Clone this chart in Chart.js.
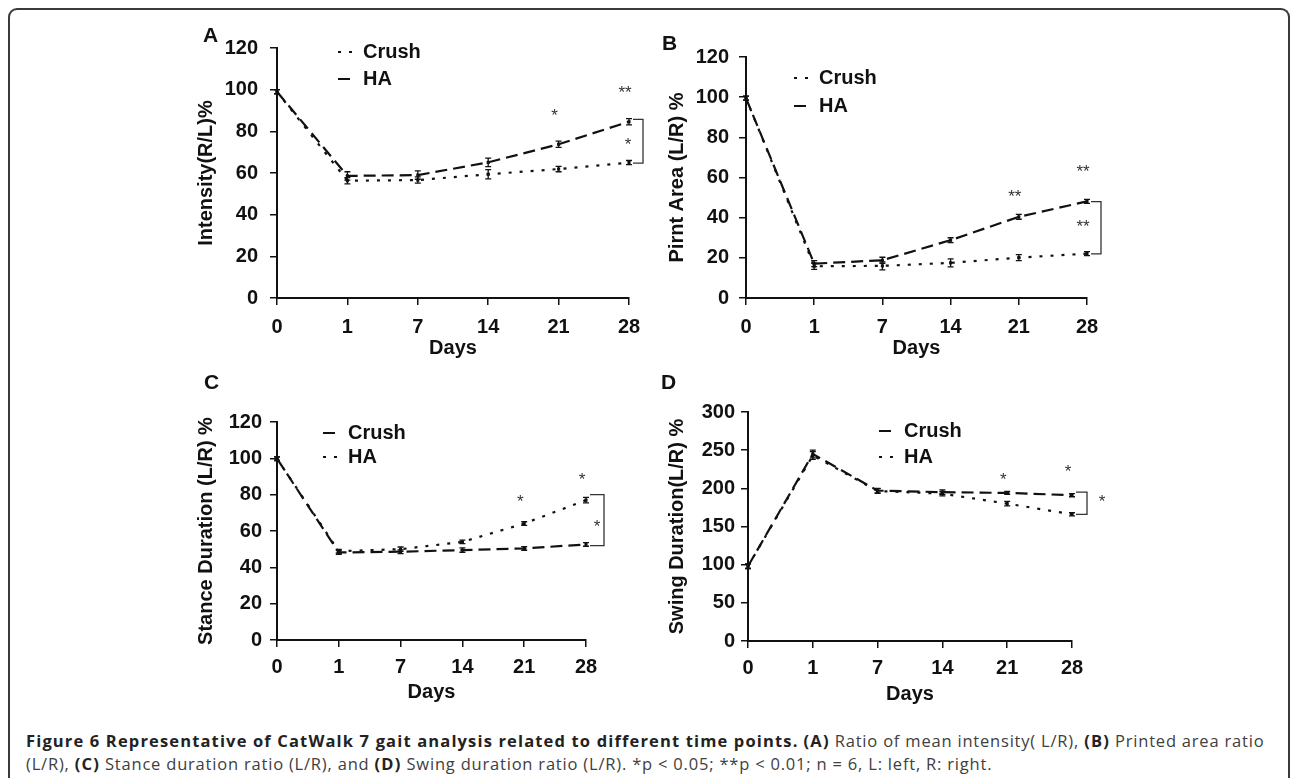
<!DOCTYPE html>
<html>
<head>
<meta charset="utf-8">
<script src="https://cdn.jsdelivr.net/npm/chart.js@4.4.0/dist/chart.umd.min.js"></script>
<style>
  html, body { margin: 0; padding: 0; background: #fff; }
  body { width: 1290px; height: 778px; position: relative; overflow: hidden; }
  .frame {
    position: absolute; left: 8px; top: 8px; width: 1282px; height: 820px; box-sizing: border-box;
    border: 2px solid #3a3a3a; border-bottom: none;
    border-top-left-radius: 9px; border-top-right-radius: 9px;
  }
  .panel { position: absolute; }
  .letter { position: absolute; font: bold 21px "Liberation Sans", Arial, sans-serif; color: #111; line-height: 24px; }
  .caption {
    position: absolute; left: 26px; top: 729px; white-space: nowrap;
    font: 16.5px "Open Sans", sans-serif; line-height: 23px; color: #404040; letter-spacing: 0.8px;
  }
  .caption b { color: #222; letter-spacing: 1.15px; }
</style>
</head>
<body>
<div class="frame"></div>

<canvas id="chartA" class="panel" width="480" height="345" style="left:180px; top:20px;"></canvas>
<canvas id="chartB" class="panel" width="480" height="345" style="left:650px; top:20px;"></canvas>
<canvas id="chartC" class="panel" width="480" height="335" style="left:180px; top:375px;"></canvas>
<canvas id="chartD" class="panel" width="480" height="335" style="left:650px; top:375px;"></canvas>

<div class="letter" style="left:203px; top:23px;">A</div>
<div class="letter" style="left:662px; top:31px;">B</div>
<div class="letter" style="left:204px; top:370px;">C</div>
<div class="letter" style="left:661px; top:370px;">D</div>

<div class="caption">
  <b>Figure 6 Representative of CatWalk 7 gait analysis related to different time points.</b> <b>(A)</b> Ratio of mean intensity( L/R), <b>(B)</b> Printed area ratio<br>
  (L/R), <b>(C)</b> Stance duration ratio (L/R), and <b>(D)</b> Swing duration ratio (L/R). *p &lt; 0.05; **p &lt; 0.01; n = 6, L: left, R: right.
</div>

<script>
const days = ["0", "1", "7", "14", "21", "28"];

// A: mean intensity
const intensityCrush = [99, 56.3, 56.6, 59.4, 61.9, 65];
const intensityCrushErr = [1, 1.5, 1.5, 2.2, 1.3, 1];
const intensityHA = [99, 58.6, 59, 65.1, 73.8, 84.6];
const intensityHAErr = [1, 2, 2, 2, 1.5, 1.5];
const intensityStars = [[4, 89, "*"], [5, 100, "**"]];
const intensityBracket = [85.7, 64.7, 75, "*"];

// B: print area
const areaCrush = [99.5, 15.8, 16, 17.5, 20.1, 22.1];
const areaCrushErr = [1, 1.5, 2, 2, 1.5, 1];
const areaHA = [99.5, 17.1, 18.8, 28.8, 40.4, 48.1];
const areaHAErr = [1, 1.5, 1.5, 1.2, 1.2, 1];
const areaStars = [[4, 52.3, "**"], [5, 64.7, "**"]];
const areaBracket = [48, 22, 37.3, "**"];

// C: stance duration
const stanceCrush = [99.8, 48.2, 48.6, 49.5, 50.4, 52.6];
const stanceCrushErr = [1, 1, 1, 1.2, 1, 1];
const stanceHA = [99.8, 48.9, 50, 54, 64.1, 77];
const stanceHAErr = [1, 1, 1.2, 1, 1, 1.5];
const stanceStars = [[4, 78.2, "*"], [5, 90.3, "*"]];
const stanceBracket = [80, 52, 64.4, "*"];

// D: swing duration
const swingCrush = [98, 245, 197, 195, 194, 191];
const swingCrushErr = [3, 5, 3, 3, 2, 2];
const swingHA = [98, 243, 196.5, 193, 180, 166];
const swingHAErr = [3, 5, 3, 3, 3, 2];
const swingStars = [[4, 216, "*"], [5, 226.6, "*"]];
const swingBracket = [195, 166, 187, "*"];

const longDash = [12, 6];
const dotted = [3, 8];
const ink = "#111";

Chart.defaults.font.family = '"Liberation Sans", Arial, sans-serif';
Chart.defaults.color = ink;

const decorById = {};

// error bars, significance stars, bracket and the in-plot legend
const decor = {
  id: "decor",
  afterDatasetsDraw(chart) {
    const d = decorById[chart.canvas.id];
    const ctx = chart.ctx;
    const xs = chart.scales.x, ys = chart.scales.y;
    const ca = chart.chartArea;
    ctx.save();
    ctx.setLineDash([]);
    ctx.strokeStyle = ink;
    ctx.lineWidth = 1.3;
    chart.data.datasets.forEach((ds, di) => {
      const meta = chart.getDatasetMeta(di);
      ds.err.forEach((e, i) => {
        const px = meta.data[i].x;
        const t = ys.getPixelForValue(ds.data[i] + e);
        const b = ys.getPixelForValue(ds.data[i] - e);
        ctx.beginPath();
        ctx.moveTo(px, t); ctx.lineTo(px, b);
        ctx.moveTo(px - 3, t); ctx.lineTo(px + 3, t);
        ctx.moveTo(px - 3, b); ctx.lineTo(px + 3, b);
        ctx.stroke();
      });
    });

    ctx.fillStyle = "#333";
    ctx.font = '17px "Liberation Sans", Arial, sans-serif';
    ctx.textAlign = "center";
    ctx.textBaseline = "middle";
    d.stars.forEach(([i, v, t]) => {
      ctx.fillText(t, xs.getPixelForValue(i) - 4, ys.getPixelForValue(v) + 4);
    });

    const br = d.bracket;
    const last = xs.getPixelForValue(days.length - 1);
    const bx = last + d.bracketGap;
    const y1 = ys.getPixelForValue(br[0]);
    const y2 = ys.getPixelForValue(br[1]);
    ctx.strokeStyle = "#333";
    ctx.beginPath();
    ctx.moveTo(last + 4, y1); ctx.lineTo(bx, y1); ctx.lineTo(bx, y2); ctx.lineTo(last + 4, y2);
    ctx.stroke();
    ctx.fillText(br[3], bx + d.bracketStarDx, ys.getPixelForValue(br[2]) + 4);

    const L = d.legend;
    ctx.font = 'bold 20px "Liberation Sans", Arial, sans-serif';
    ctx.textAlign = "left";
    ctx.fillStyle = ink;
    chart.data.datasets.forEach((ds, di) => {
      const ly = ca.top + L.dy + di * L.gap;
      ctx.setLineDash(ds.borderDash);
      ctx.lineWidth = 2;
      ctx.strokeStyle = ink;
      ctx.beginPath();
      ctx.moveTo(ca.left + L.dx, ly);
      ctx.lineTo(ca.left + L.dx + 15, ly);
      ctx.stroke();
      ctx.setLineDash([]);
      ctx.fillText(ds.label, ca.left + L.dx + 25, ly);
    });
    ctx.restore();
  }
};

function gaitChart(id, o) {
  decorById[id] = o.decor;
  const tickFont = { size: 20, weight: "bold" };
  const titleFont = { size: 20, weight: "bold" };
  return new Chart(document.getElementById(id), {
    type: "line",
    data: {
      labels: days,
      datasets: o.sets.map((s) => ({
        label: s.label,
        data: s.data,
        err: s.err,
        borderDash: s.dash,
        borderColor: ink,
        borderWidth: 2.2,
        pointStyle: "rect",
        pointRadius: 2.2,
        pointBackgroundColor: ink,
        pointBorderWidth: 0,
        tension: 0,
      })),
    },
    options: {
      responsive: false,
      animation: false,
      events: [],
      layout: { padding: o.pad },
      plugins: { legend: { display: false }, tooltip: { enabled: false } },
      scales: {
        x: {
          offset: false,
          grid: { drawOnChartArea: false, color: ink, lineWidth: 1.5, tickLength: 7 },
          border: { color: ink, width: 2 },
          ticks: { font: tickFont, padding: o.xPad, maxRotation: 0, autoSkip: false },
          title: { display: true, text: "Days", font: titleFont, padding: 0 },
          afterFit: (s) => { s.height = o.xH; },
        },
        y: {
          min: 0,
          max: o.yMax,
          grid: { drawOnChartArea: false, color: ink, lineWidth: 1.5, tickLength: 7 },
          border: { color: ink, width: 2 },
          ticks: { font: tickFont, stepSize: o.yStep, padding: o.yPad },
          title: { display: true, text: o.yTitle, font: titleFont, padding: { top: o.titlePad, bottom: 0 } },
          afterFit: (s) => { s.width = o.yW; },
        },
      },
    },
    plugins: [decor],
  });
}

gaitChart("chartA", {
  sets: [
    { label: "Crush", data: intensityCrush, err: intensityCrushErr, dash: dotted },
    { label: "HA", data: intensityHA, err: intensityHAErr, dash: longDash },
  ],
  yMax: 120, yStep: 20, yTitle: "Intensity(R/L)%",
  pad: { left: 0, top: 28, right: 31, bottom: 5 }, yW: 97, xH: 62, xPad: 10, yPad: 12, titlePad: 14,
  decor: { stars: intensityStars, bracket: intensityBracket, bracketGap: 14, bracketStarDx: -15, legend: { dx: 61, dy: 4, gap: 27 } },
});

gaitChart("chartB", {
  sets: [
    { label: "Crush", data: areaCrush, err: areaCrushErr, dash: dotted },
    { label: "HA", data: areaHA, err: areaHAErr, dash: longDash },
  ],
  yMax: 120, yStep: 20, yTitle: "Pirnt Area (L/R) %",
  pad: { left: 0, top: 37, right: 43, bottom: 5 }, yW: 96, xH: 62, xPad: 10, yPad: 10, titlePad: 15,
  decor: { stars: areaStars, bracket: areaBracket, bracketGap: 14, bracketStarDx: -18, legend: { dx: 48, dy: 21, gap: 28 } },
});

gaitChart("chartC", {
  sets: [
    { label: "Crush", data: stanceCrush, err: stanceCrushErr, dash: longDash },
    { label: "HA", data: stanceHA, err: stanceHAErr, dash: dotted },
  ],
  yMax: 120, yStep: 20, yTitle: "Stance Duration (L/R) %",
  pad: { left: 0, top: 47, right: 74, bottom: 6 }, yW: 97, xH: 64, xPad: 8, yPad: 8, titlePad: 14,
  decor: { stars: stanceStars, bracket: stanceBracket, bracketGap: 18, bracketStarDx: -7, legend: { dx: 46, dy: 11, gap: 24 } },
});

gaitChart("chartD", {
  sets: [
    { label: "Crush", data: swingCrush, err: swingCrushErr, dash: longDash },
    { label: "HA", data: swingHA, err: swingHAErr, dash: dotted },
  ],
  yMax: 300, yStep: 50, yTitle: "Swing Duration(L/R) %",
  pad: { left: 0, top: 37, right: 58, bottom: 4 }, yW: 98, xH: 65, xPad: 8, yPad: 6, titlePad: 15,
  decor: { stars: swingStars, bracket: swingBracket, bracketGap: 15, bracketStarDx: 15, legend: { dx: 131, dy: 19, gap: 26 } },
});
</script>
</body>
</html>
